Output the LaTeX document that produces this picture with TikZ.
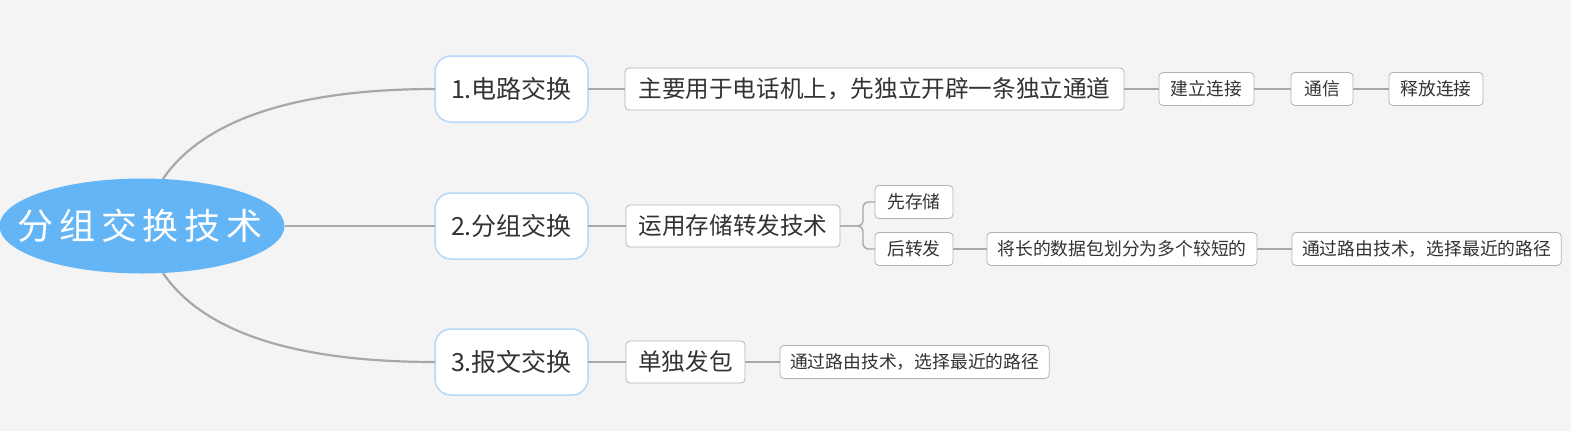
\documentclass[tikz,border=0pt]{standalone}
\usepackage{fontspec}
\setmainfont{Noto Sans CJK SC}
\newfontfamily\cjk{Noto Sans CJK SC}
\newfontfamily\rootfont[LetterSpace=16]{Noto Sans CJK SC}
\usetikzlibrary{shapes.geometric}
\definecolor{bg}{HTML}{F4F4F4}
\definecolor{rootblue}{HTML}{64B5F6}
\definecolor{lblue}{HTML}{B9D7F7}
\definecolor{lgray}{HTML}{B4B4B4}
\definecolor{txt}{HTML}{333333}
\definecolor{conn}{HTML}{A8A8A8}
\tikzset{
  rootnode/.style={ellipse, fill=rootblue, draw=none, minimum width=285pt, minimum height=95pt, inner sep=0pt, outer sep=0pt, text=white, font=\rootfont\fontsize{36}{40}\selectfont},
  lvone/.style={rectangle, rounded corners=16pt, fill=white, draw=lblue, line width=1.5pt, minimum width=153pt, minimum height=66pt, anchor=west, inner sep=0pt, outer sep=0pt, text=txt, font=\cjk\fontsize{25}{30}\selectfont},
  lvtwo/.style={rectangle, rounded corners=4pt, fill=white, draw=lgray, line width=0.8pt, minimum height=42pt, anchor=west, inner xsep=12pt, inner ysep=0pt, outer sep=0pt, text=txt, font=\cjk\fontsize{23.6}{28}\selectfont},
  lvthree/.style={rectangle, rounded corners=4pt, fill=white, draw=lgray, line width=0.8pt, minimum height=33pt, anchor=west, inner xsep=10pt, inner ysep=0pt, outer sep=0pt, text=txt, font=\cjk\fontsize{17.8}{21}\selectfont},
  rootline/.style={draw=conn, line width=2.2pt},
  link/.style={draw=conn, line width=1.4pt},
}
\begin{document}
\begin{tikzpicture}[x=1pt,y=-1pt]
\fill[bg] (0,0) rectangle (1571,431);
\useasboundingbox (0,0) rectangle (1571,431);

\node[rootnode] (root) at (142,226) {\makebox[0pt]{\hspace{-4pt}分组交换技术}};

\node[lvone] (a1) at (435,89) {1.电路交换};
\node[lvone] (a2) at (435,226) {2.分组交换};
\node[lvone] (a3) at (435,362) {3.报文交换};

\node[lvtwo, minimum width=499pt] (b1) at (625,89) {主要用于电话机上，先独立开辟一条独立通道};
\node[lvtwo, minimum width=214pt] (b2) at (626,226) {运用存储转发技术};
\node[lvtwo, minimum width=119pt] (b3) at (626,362) {单独发包};

\node[lvthree, minimum width=95pt] (c1) at (1159,89) {建立连接};
\node[lvthree, minimum width=62pt] (c2) at (1291,89) {通信};
\node[lvthree, minimum width=94pt] (c3) at (1389,89) {释放连接};

\node[lvthree, minimum width=78pt] (d1) at (875,202) {先存储};
\node[lvthree, minimum width=78pt] (d2) at (875,249) {后转发};
\node[lvthree, minimum width=270pt] (d3) at (987,249) {将长的数据包划分为多个较短的};
\node[lvthree, minimum width=269pt] (d4) at (1292,249) {通过路由技术，选择最近的路径};

\node[lvthree, minimum width=268pt] (e1) at (780,362) {通过路由技术，选择最近的路径};

\path[rootline] (root.66) .. controls (210,110) and (320,89) .. (a1.west);
\path[rootline] (root.east) -- (a2.west);
\path[rootline] (root.-66) .. controls (210,342) and (320,362) .. (a3.west);

\path[link] (a1.east) -- (b1.west);
\path[link] (a2.east) -- (b2.west);
\path[link] (a3.east) -- (b3.west);

\path[link] (b1.east) -- (c1.west);
\path[link] (c1.east) -- (c2.west);
\path[link] (c2.east) -- (c3.west);

\path[link, rounded corners=5pt] (b2.east) -- ++(23,0) |- (d1.west);
\path[link, rounded corners=5pt] (b2.east) -- ++(23,0) |- (d2.west);
\path[link] (d2.east) -- (d3.west);
\path[link] (d3.east) -- (d4.west);

\path[link] (b3.east) -- (e1.west);
\end{tikzpicture}
\end{document}
